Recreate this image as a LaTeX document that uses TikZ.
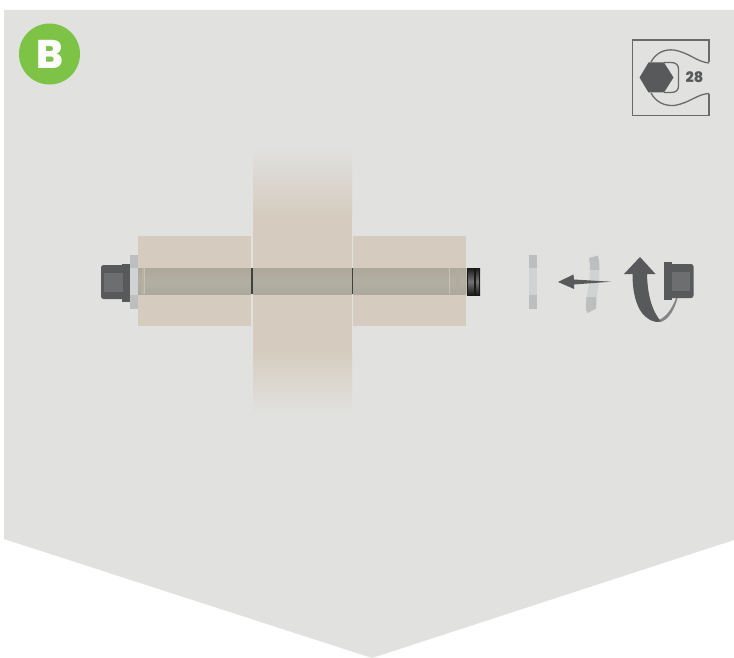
\documentclass[tikz,border=0pt]{standalone}
\usepackage{fontspec}
\setmainfont{Poppins}
\newfontfamily\heavy{Poppins ExtraBold}
\usetikzlibrary{shadings}
\definecolor{panel}{HTML}{E1E1DF}
\definecolor{tan}{HTML}{D5CCBF}
\definecolor{darkgr}{HTML}{58595B}
\definecolor{midgr}{HTML}{6D6E70}
\definecolor{washa}{HTML}{BDBEC0}
\definecolor{washb}{HTML}{D1D2D4}
\definecolor{rodtop}{HTML}{AEA79C}
\definecolor{rodbot}{HTML}{ACA99C}
\definecolor{rodmid}{HTML}{B2AFA3}
\tikzset{
  plate/.style={fill=tan,draw=none},
  rodpart/.style={top color=rodtop,bottom color=rodbot,middle color=rodmid,draw=none},
  gap/.style={fill=black!75,draw=none},
  ink/.style={fill=darkgr,draw=none},
  keyline/.style={draw=darkgr!90!white,line width=1.3pt,fill=none}
}
\begin{document}
\begin{tikzpicture}[x=1pt,y=-1pt]
\useasboundingbox (0,0) rectangle (734,658);
\fill[white] (0,0) rectangle (734,658);
\fill[panel] (4,10) -- (734,10) -- (734,540) -- (372,658) -- (4,539) -- cycle;
% badge
\node[circle,fill={rgb,255:red,125;green,195;blue,70},minimum size=61pt,inner sep=0pt,text=white,font=\heavy\fontsize{40}{40}\selectfont] (badge) at (49.5,54) {B};
% key icon
\draw[keyline] (709,62.5) -- (709,40) -- (632.5,40) -- (632.5,115.5) -- (709,115.5) -- (709,94);
\draw[keyline] (709,63) .. controls (697,62) and (690,53) .. (674,50) .. controls (664,49) and (656,53) .. (651,62);
\draw[keyline] (709,93.5) .. controls (697,94) and (690,103) .. (674,105.5) .. controls (664,106) and (656,102) .. (651,93);
\draw[keyline] (664,62.5) -- (671,62.5) .. controls (676,62.5) and (678.5,65) .. (678.5,69) -- (678.5,86) .. controls (678.5,90) and (676,92.5) .. (671,92.5) -- (664,92.5);
\fill[ink] (639.5,77.5) -- (648.5,62.5) -- (664,62.5) -- (673.5,77.5) -- (664,92.5) -- (648.5,92.5) -- cycle;
\node[text=darkgr,font=\heavy\fontsize{14.5}{15}\selectfont,inner sep=0pt] (size) at (694.5,77.5) {28};
% plates
\shade[top color=panel,bottom color=tan,draw=none] (253,146) rectangle (352,215);
\fill[plate] (253,215) rectangle (352,350);
\shade[top color=tan,bottom color=panel,draw=none] (253,350) rectangle (352,414);
\fill[plate] (138,236) rectangle (251,326);
\fill[plate] (353,236) rectangle (466,326);
% rod
\shade[rodpart] (138,268) rectangle (251,294);
\shade[rodpart] (253,268) rectangle (352,294);
\shade[rodpart] (353,268) rectangle (466,294);
\fill[gap] (251,268) rectangle (252.5,294);
\fill[gap] (351.5,268) rectangle (353,294);
\fill[rodmid!85!black!50!tan] (141.5,268) rectangle (144,294);
\fill[tan!60!rodmid] (144,268) rectangle (144.8,294);
\fill[tan!60!rodmid] (449.3,268) rectangle (450.3,294);
\fill[rodtop!92!tan] (456,268) rectangle (460,294);
\fill[tan!60!rodmid] (465.5,268) rectangle (466.5,294);
% thread end
\shade[top color=black!90,bottom color=black!90,middle color=black!55] (467,268) rectangle (480,295);
\fill[black!90] (473.5,268) rectangle (475.5,295);
\fill[black!90] (479,268) rectangle (480,295);
\fill[black!90] (467,268) rectangle (468,295);
% left nut & washer
\fill[washa] (130,255) rectangle (138,309);
\fill[washb] (130,268) rectangle (138,295);
\fill[ink,rounded corners=2.5pt] (101,265) rectangle (124,299);
\fill[ink] (122,264) rectangle (130,302);
\fill[midgr] (104,273) rectangle (122.5,292);
% loose washer
\fill[washa] (529,255) rectangle (537,309);
\fill[washb] (529,268) rectangle (537,295);
% lock washer
\fill[washa] (589,258) -- (598,255.5) .. controls (599,260) and (599.5,265) .. (599.5,270) -- (590,270) .. controls (590,266) and (589.7,262) .. (589,258) -- cycle;
\fill[washb] (590,270) -- (599.5,270) .. controls (599.5,280) and (598,290) .. (596.5,297) -- (586.5,297) .. controls (588,288) and (590,280) .. (590,270) -- cycle;
\fill[washa] (586.5,297) -- (596.5,297) .. controls (596.5,301) and (596.3,305) .. (596,308.5) -- (588,313) -- (586,310.5) .. controls (585.8,306) and (586,301) .. (586.5,297) -- cycle;
% straight arrow
\fill[ink] (558,282) -- (573.5,274.5) -- (574,279.5) -- (611,281.7) -- (574,284.5) -- (574,289) -- cycle;
% curved arrow
\fill[midgr!85!white] (660,322) .. controls (668,320.5) and (674.5,310) .. (677.5,298) -- (676,298) .. controls (672,309) and (666,317) .. (659,320) -- cycle;
\fill[ink] (640,257) -- (655.5,274) -- (647,274) .. controls (647.5,295) and (652,311) .. (661,321.5) .. controls (655,323.5) and (648,320) .. (642,313) .. controls (636,305) and (632.5,292) .. (632.5,274) -- (624,274) -- cycle;
% right nut
\fill[ink,rounded corners=2.5pt] (668,264) rectangle (693.5,298);
\fill[ink] (664,262) rectangle (672,300);
\fill[midgr] (671.5,272) rectangle (690,291);
\end{tikzpicture}
\end{document}
